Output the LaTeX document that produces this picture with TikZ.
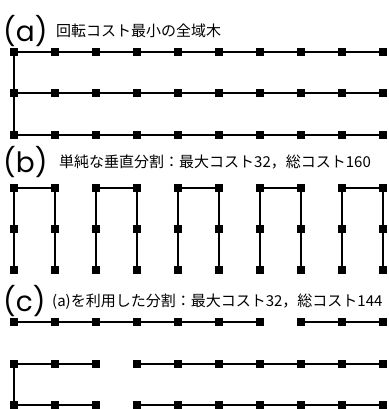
\documentclass[tikz,border=0pt]{standalone}
\usepackage{fontspec}
\setmainfont{Noto Sans CJK JP}
\newfontfamily\labfont{Poppins}
\begin{document}
\begin{tikzpicture}[x=1pt,y=-1pt,
  pt/.style={fill=black,minimum size=8pt,inner sep=0pt,outer sep=0pt},
  edge/.style={line width=2pt},
  big/.style={font=\labfont\fontsize{28}{28}\selectfont,inner sep=0pt,anchor=west},
  captext/.style={font=\fontsize{15}{15}\selectfont,inner sep=0pt,anchor=west}]
\useasboundingbox (0,0) rectangle (388,409);
% labels
\node[big] (la) at (3,31) {(a)};
\node[captext] (ta) at (56,31) {回転コスト最小の全域木};
\node[big] (lb) at (3,162) {(b)};
\node[captext] (tb) at (59,162) {単純な垂直分割：最大コスト32，総コスト160};
\node[big] (lc) at (3,301) {(c)};
\node[captext] (tc) at (52,302) {(a)を利用した分割：最大コスト32，総コスト144};
% nodes
\foreach \g/\y in {a/52.3,b/187.5,c/322.3}{
  \foreach \r in {0,1,2}{
    \foreach \c in {0,...,9}{
      \node[pt] (\g\r\c) at ({14+41.04*\c},{\y+41.2*\r}) {};
    }
  }
}
% (a)
\foreach \r in {0,1,2}{\draw[edge] (a\r0.center) -- (a\r9.center);}
\draw[edge] (a00.center) -- (a20.center);
% (b)
\foreach \c/\d in {0/1,2/3,4/5,6/7,8/9}{
  \draw[edge] (b2\c.center) -- (b0\c.center) -- (b0\d.center) -- (b2\d.center);
}
% (c)
\draw[edge] (c00.center) -- (c06.center);
\draw[edge] (c07.center) -- (c09.center);
\draw[edge] (c12.center) -- (c10.center) -- (c20.center) -- (c22.center);
\draw[edge] (c13.center) -- (c19.center);
\draw[edge] (c23.center) -- (c29.center);
\end{tikzpicture}
\end{document}
